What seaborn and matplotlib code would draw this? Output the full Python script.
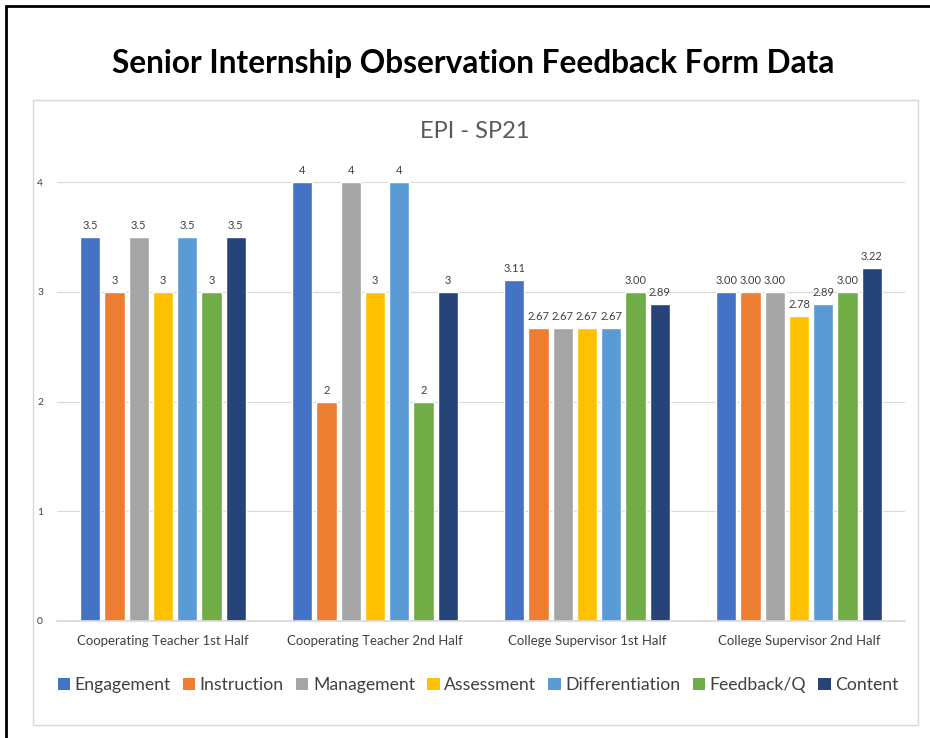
import matplotlib
matplotlib.use("Agg")
import matplotlib.pyplot as plt
import seaborn as sns
import pandas as pd
from matplotlib.lines import Line2D
from matplotlib.patches import Rectangle, Patch

# Observation groups (x categories)
groups = [
    "Cooperating Teacher 1st Half",
    "Cooperating Teacher 2nd Half",
    "College Supervisor 1st Half",
    "College Supervisor 2nd Half",
]

# Rubric criteria (series)
criteria = ["Engagement", "Instruction", "Management", "Assessment",
            "Differentiation", "Feedback/Q", "Content"]

# Mean score per criterion, one list per group
ct_first = [3.5, 3, 3.5, 3, 3.5, 3, 3.5]
ct_second = [4, 2, 4, 3, 4, 2, 3]
cs_first = [3.11, 2.67, 2.67, 2.67, 2.67, 3.00, 2.89]
cs_second = [3.00, 3.00, 3.00, 2.78, 2.89, 3.00, 3.22]

# Number format used for the value labels of each group
label_formats = ["{:g}", "{:g}", "{:.2f}", "{:.2f}"]

colors = ["#4472C4", "#ED7D31", "#A5A5A5", "#FFC000",
          "#5B9BD5", "#70AD47", "#264478"]

series = [ct_first, ct_second, cs_first, cs_second]
df = pd.DataFrame(
    [(g, c, v) for g, vals in zip(groups, series) for c, v in zip(criteria, vals)],
    columns=["group", "criterion", "score"],
)

sns.set_theme(style="white")
plt.rcParams["font.family"] = ["Lato", "DejaVu Sans"]

W, H = 930, 738
fig = plt.figure(figsize=(W / 100, H / 100), dpi=100)

# Outer frame (top and left edges)
fig.add_artist(Line2D([6 / W, 1.0], [1 - 6 / H, 1 - 6 / H], color="black", lw=2))
fig.add_artist(Line2D([6 / W, 6 / W], [0, 1 - 6 / H], color="black", lw=2))

# Chart area border
fig.add_artist(Rectangle((33 / W, 1 - 725 / H), (918 - 33) / W, (725 - 100) / H,
                         fill=False, edgecolor="#D9D9D9", lw=1))

fig.text(473 / W, 1 - 64 / H, "Senior Internship Observation Feedback Form Data",
         ha="center", va="center", fontsize=22.8, fontweight="bold", color="black")
fig.text(475 / W, 1 - 131 / H, "EPI - SP21", ha="center", va="center",
         fontsize=17, color="#595959")

ax = fig.add_axes([57 / W, 1 - 621 / H, (905 - 57) / W, (621 - 182) / H])
sns.barplot(data=df, x="group", y="score", hue="criterion", order=groups,
            hue_order=criteria, palette=colors, width=0.8, gap=0.16,
            ax=ax, legend=False, saturation=1)

ax.set_ylim(0, 4)
ax.set_yticks([0, 1, 2, 3, 4])
ax.set_yticklabels(["0", "1", "2", "3", "4"])
ax.grid(axis="y", color="#D9D9D9", lw=0.8)
ax.set_axisbelow(True)
for s in ["top", "right", "left"]:
    ax.spines[s].set_visible(False)
ax.spines["bottom"].set_color("#D9D9D9")
ax.tick_params(axis="y", length=0, labelsize=7.5, labelcolor="#404040", pad=10)
ax.tick_params(axis="x", length=0, labelsize=9.5, labelcolor="#404040", pad=10)
ax.set_xlabel("")
ax.set_ylabel("")

for cont, crit_vals in zip(ax.containers, zip(*series)):
    labels = [fmt.format(v) for fmt, v in zip(label_formats, crit_vals)]
    ax.bar_label(cont, labels=labels, padding=4, fontsize=8, color="#404040",
                 clip_on=False)

handles = [Patch(facecolor=c, edgecolor="none") for c in colors]
fig.legend(handles, criteria, loc="center", bbox_to_anchor=(478 / W, 1 - 685 / H),
           ncol=7, frameon=False, fontsize=12.7, handlelength=0.7,
           handleheight=0.7, handletextpad=0.25, columnspacing=0.7,
           labelcolor="#404040")

fig.savefig("out.png", dpi=100)
